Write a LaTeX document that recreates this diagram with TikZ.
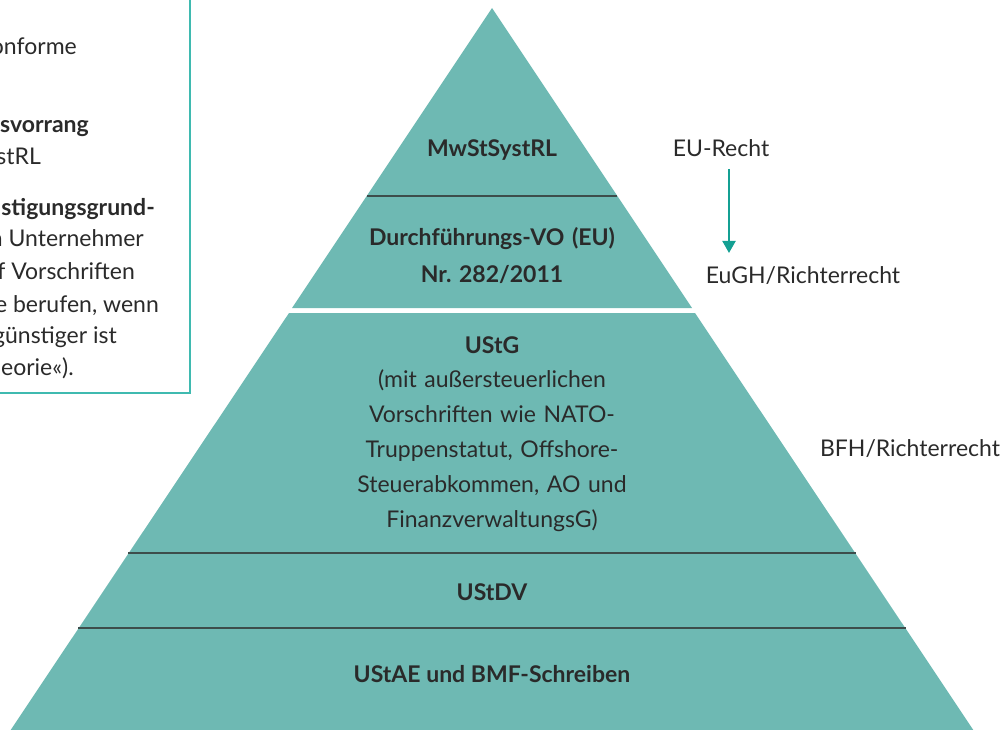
\documentclass[tikz,border=0pt]{standalone}
\usepackage{fontspec}
\setmainfont{Lato}
\frenchspacing
\usetikzlibrary{arrows.meta}
\definecolor{pyr}{HTML}{6EB9B3}
\definecolor{boxline}{HTML}{3FBAB0}
\definecolor{arrowc}{HTML}{14A093}
\definecolor{sep}{HTML}{3D4D4B}
\definecolor{txt}{HTML}{2A2A2A}
\tikzset{
	lbl/.style={text=txt, inner sep=0pt, font=\fontsize{23}{35}\selectfont},
	blbl/.style={lbl, font=\fontsize{23}{35}\selectfont\bfseries},
	boxtxt/.style={lbl, anchor=base east},
	layer/.style={sep, line width=1.4pt}
}

\begin{document}
\begin{tikzpicture}[x=1pt, y=-1pt]
		%%%%% START %%%%%
		\useasboundingbox (0, 0) rectangle (1004, 730);
		
		% left box (cut off)
		\draw[boxline, line width=1.5pt] (-20, -20) rectangle (190, 393);
		\node[boxtxt] (b1) at (77, 55) {onforme};
		\node[boxtxt, font=\fontsize{23}{35}\selectfont\bfseries] (b2) at (89, 133) {svorrang};
		\node[boxtxt] (b3) at (41, 165) {stRL};
		\node[boxtxt, font=\fontsize{23}{35}\selectfont\bfseries] (b4) at (155, 215) {stigungsgrund-};
		\node[boxtxt] (b5) at (144, 247) {n Unternehmer};
		\node[boxtxt] (b6) at (135, 279) {f Vorschriften};
		\node[boxtxt] (b7) at (159, 312) {e berufen, wenn};
		\node[boxtxt] (b8) at (117, 343) {günstiger ist};
		\node[boxtxt] (b9) at (74, 375) {eorie«).};
		
		% pyramid
		\fill[pyr] (492, 8) -- (692, 308) -- (292, 308) -- cycle;
		\fill[pyr] (289, 313) -- (695, 313) -- (980, 740) -- (4, 740) -- cycle;
		\draw[layer] (367, 196) -- (617, 196);
		\draw[layer] (128, 553) -- (856, 553);
		\draw[layer] (78, 628) -- (906, 628);
		
		\node[blbl, anchor=base] (mwst) at (492, 157) {MwStSystRL};
		\node[blbl, anchor=base, text width=330pt, align=center, font=\fontsize{23}{36}\selectfont\bfseries] (dvo) at (492, 246) {Durchführungs-VO (EU)\\Nr. 282/2011};
		\node[blbl, anchor=base] (ustg) at (492, 353) {UStG};
		\node[lbl, anchor=base, text width=400pt, align=center] (ustgtext) at (492, 387) {(mit außersteuerlichen\\Vorschriften wie NATO-\\Truppenstatut, Offshore-\\Steuerabkommen, AO und\\FinanzverwaltungsG)};
		\node[blbl, anchor=base] (ustdv) at (492, 600) {UStDV};
		\node[blbl, anchor=base] (ustae) at (492, 682) {UStAE und BMF-Schreiben};
		
		% right side
		\node[lbl, anchor=base] (eurecht) at (721, 157) {EU-Recht};
		\node[lbl, anchor=base] (eugh) at (803, 283) {EuGH/Richterrecht};
		\node[lbl, anchor=base] (bfh) at (910, 456) {BFH/Richterrecht};
		\coordinate (arrtop) at (729, 169);
		\coordinate (arrtip) at (729, 253);
		\draw[arrowc, line width=2pt, -{Triangle[length=12pt, width=13pt]}] (arrtop) -- (arrtip);
		
		%%%%% END %%%%%
\end{tikzpicture}
\end{document}
